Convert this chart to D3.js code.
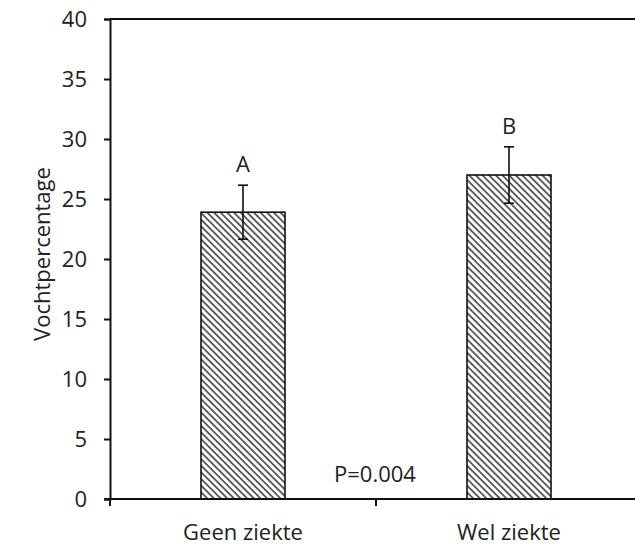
<!DOCTYPE html>
<html>
<head>
<meta charset="utf-8">
<script src="https://cdn.jsdelivr.net/npm/d3@7"></script>
<style>
  html, body { margin: 0; padding: 0; background: #fff; }
  svg { display: block; }
  text { font-family: "Open Sans", Lato, sans-serif; fill: #222; }
</style>
</head>
<body>
<svg id="chart" width="635" height="545"></svg>
<script>
// Moisture percentage by disease status
const categories = ["Geen ziekte", "Wel ziekte"];
const values = [23.9, 27.0];
const errors = [2.25, 2.35];
const letters = ["A", "B"];
const yTicks = [0, 5, 10, 15, 20, 25, 30, 35, 40];
const yLabel = "Vochtpercentage";
const pLabel = "P=0.004";

const svg = d3.select("#chart");
const m = { left: 110, right: 642, top: 19, bottom: 499 };
const fontSize = 22;

const x = d3.scaleBand().domain(categories).range([m.left, m.right]).paddingInner(0).paddingOuter(0);
const y = d3.scaleLinear().domain([0, 40]).range([m.bottom, m.top]);
const barW = 84;

// diagonal hatch fill
const hs = 4.7;
const defs = svg.append("defs");
const pat = defs.append("pattern")
  .attr("id", "hatch")
  .attr("patternUnits", "userSpaceOnUse")
  .attr("width", hs).attr("height", hs)
  .attr("patternTransform", "rotate(-45)");
pat.append("rect").attr("width", hs).attr("height", hs).attr("fill", "#fff");
pat.append("line")
  .attr("x1", 1).attr("y1", 0).attr("x2", 1).attr("y2", hs)
  .attr("stroke", "#222").attr("stroke-width", 1.4);

// bars
svg.selectAll("rect.bar").data(categories).join("rect")
  .attr("class", "bar")
  .attr("x", d => x(d) + x.bandwidth() / 2 - barW / 2)
  .attr("y", (d, i) => y(values[i]))
  .attr("width", barW)
  .attr("height", (d, i) => y(0) - y(values[i]))
  .attr("fill", "url(#hatch)")
  .attr("stroke", "#111")
  .attr("stroke-width", 1.6);

// error bars and group letters
const eg = svg.append("g").attr("stroke", "#111").attr("stroke-width", 1.6);
categories.forEach((c, i) => {
  const cx = x(c) + x.bandwidth() / 2;
  const hi = y(values[i] + errors[i]), lo = y(values[i] - errors[i]);
  eg.append("line").attr("x1", cx).attr("x2", cx).attr("y1", hi).attr("y2", lo);
  eg.append("line").attr("x1", cx - 5).attr("x2", cx + 5).attr("y1", hi).attr("y2", hi);
  eg.append("line").attr("x1", cx - 5).attr("x2", cx + 5).attr("y1", lo).attr("y2", lo);
  svg.append("text")
    .attr("x", cx).attr("y", hi - 13)
    .attr("text-anchor", "middle")
    .attr("font-size", fontSize)
    .text(letters[i]);
});

// y axis
const yAxis = svg.append("g")
  .attr("transform", `translate(${m.left},0)`)
  .call(d3.axisLeft(y).tickValues(yTicks).tickSize(6).tickPadding(17).tickFormat(d3.format("d")));
yAxis.select(".domain").attr("stroke", "#111").attr("stroke-width", 2);
yAxis.selectAll(".tick line").attr("stroke", "#111").attr("stroke-width", 2);
yAxis.selectAll(".tick text").attr("font-size", fontSize).attr("fill", "#222")
  .attr("font-family", "'Open Sans', Lato, sans-serif");

// top border
svg.append("line")
  .attr("x1", m.left).attr("x2", 635).attr("y1", y(40)).attr("y2", y(40))
  .attr("stroke", "#111").attr("stroke-width", 2);

// x axis with tick between categories
const xAxis = svg.append("g").attr("transform", `translate(0,${m.bottom})`);
xAxis.append("line").attr("x1", m.left - 6).attr("x2", 635).attr("y1", 0).attr("y2", 0)
  .attr("stroke", "#111").attr("stroke-width", 2);
xAxis.append("line")
  .attr("x1", x(categories[1])).attr("x2", x(categories[1]))
  .attr("y1", 0).attr("y2", 7)
  .attr("stroke", "#111").attr("stroke-width", 2);
xAxis.append("line")
  .attr("x1", m.left).attr("x2", m.left).attr("y1", 0).attr("y2", 7)
  .attr("stroke", "#111").attr("stroke-width", 2);
categories.forEach(c => {
  xAxis.append("text")
    .attr("x", x(c) + x.bandwidth() / 2).attr("y", 41)
    .attr("text-anchor", "middle")
    .attr("font-size", fontSize)
    .text(c);
});

// p-value
svg.append("text")
  .attr("x", 375)
  .attr("y", 482)
  .attr("text-anchor", "middle")
  .attr("font-size", fontSize)
  .text(pLabel);

// y axis title
svg.append("text")
  .attr("transform", `translate(50,254) rotate(-90)`)
  .attr("text-anchor", "middle")
  .attr("font-size", fontSize)
  .text(yLabel);
</script>
</body>
</html>
